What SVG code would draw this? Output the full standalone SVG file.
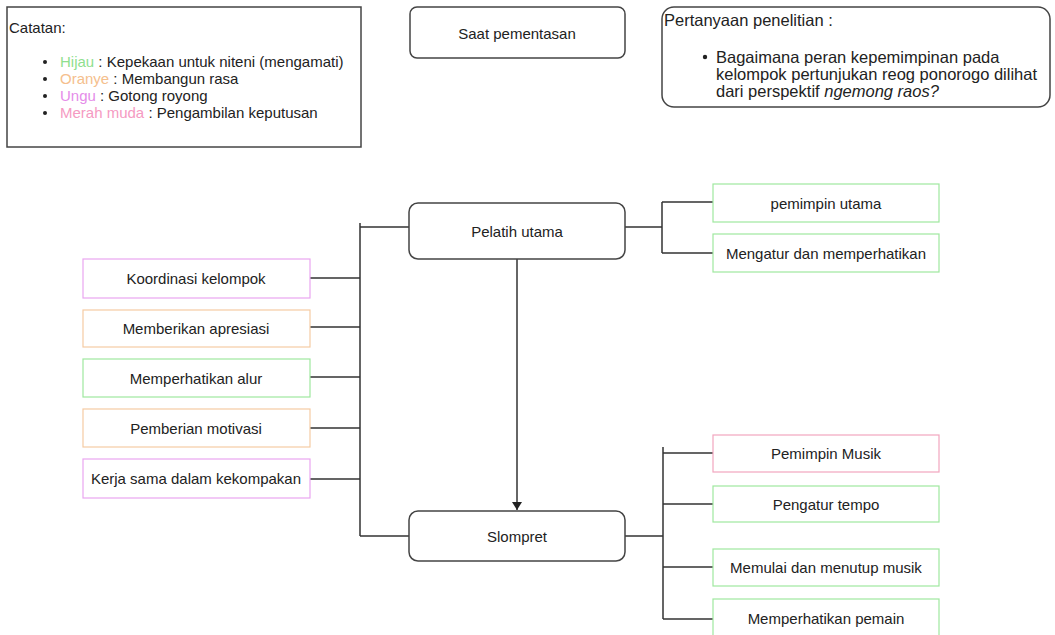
<svg xmlns="http://www.w3.org/2000/svg" width="1055" height="635" viewBox="0 0 1055 635">
<defs>
<style>
text{font-family:"Liberation Sans",Arial,sans-serif;font-size:15px;fill:#222}
.c{text-anchor:middle;dominant-baseline:central}
.q{font-size:16.5px}
.main{fill:#fff;stroke:#444;stroke-width:1.5}
.leaf{fill:#fff;stroke-width:1.2}
.g{stroke:#9fe89f}.o{stroke:#f5cba3}.u{stroke:#eaa6f0}.p{stroke:#f2a6bf}
.ln{fill:none;stroke:#333;stroke-width:1.5}
</style>
<marker id="ah" markerWidth="8" markerHeight="10" refX="8" refY="5" orient="auto" markerUnits="userSpaceOnUse">
<path d="M0,0 L8,5 L0,10 Z" fill="#222"/>
</marker>
</defs>
<rect width="1055" height="635" fill="#fff"/>

<g id="catatan">
<rect x="7" y="7" width="354" height="140" fill="#fff" stroke="#444" stroke-width="1.5"/>
<text x="9" y="33">Catatan:</text>
<circle cx="45" cy="62" r="2" fill="#222"/>
<circle cx="45" cy="79" r="2" fill="#222"/>
<circle cx="45" cy="96" r="2" fill="#222"/>
<circle cx="45" cy="113" r="2" fill="#222"/>
<text x="60" y="67"><tspan style="fill:#8fe08f">Hijau</tspan> : Kepekaan untuk niteni (mengamati)</text>
<text x="60" y="84"><tspan style="fill:#f5c08d">Oranye</tspan> : Membangun rasa</text>
<text x="60" y="101"><tspan style="fill:#e58ce9">Ungu</tspan> : Gotong royong</text>
<text x="60" y="118"><tspan style="fill:#f59ac2">Merah muda</tspan> : Pengambilan keputusan</text>
</g>

<g id="saat">
<rect x="410" y="7" width="215" height="51" rx="7" class="main"/>
<text x="517" y="33" class="c">Saat pementasan</text>
</g>

<g id="pertanyaan">
<rect x="662" y="7" width="388" height="100" rx="12" class="main"/>
<text x="664" y="26" class="q">Pertanyaan penelitian :</text>
<circle cx="705" cy="57" r="2.2" fill="#222"/>
<text x="716" y="63" class="q">Bagaimana peran kepemimpinan pada</text>
<text x="716" y="80" class="q">kelompok pertunjukan reog ponorogo dilihat</text>
<text x="716" y="97" class="q">dari perspektif <tspan font-style="italic">ngemong raos?</tspan></text>
</g>

<g id="connectors">
<path class="ln" d="M360,223 V536 M360,227 H409 M360,536 H409"/>
<path class="ln" d="M310,278 H360 M310,327 H360 M310,377 H360 M310,428 H360 M310,479 H360"/>
<path class="ln" d="M625,227 H662 M662,202 V253 M662,202 H713 M662,253 H713"/>
<path class="ln" d="M625,536 H663 M663,447 V619 M663,453 H713 M663,504 H713 M663,567 H713 M663,619 H713"/>
<path class="ln" d="M517,259 V510" marker-end="url(#ah)"/>
</g>

<g id="pelatih">
<rect x="409" y="203" width="216" height="56" rx="9" class="main"/>
<text x="517" y="231" class="c">Pelatih utama</text>
</g>
<g id="slompret">
<rect x="409" y="511" width="216" height="50" rx="9" class="main"/>
<text x="517" y="536" class="c">Slompret</text>
</g>

<g id="pemimpin-utama"><rect x="713" y="184" width="226" height="38" class="leaf g"/><text x="826" y="203" class="c">pemimpin utama</text></g>
<g id="mengatur"><rect x="713" y="234" width="226" height="38" class="leaf g"/><text x="826" y="253" class="c">Mengatur dan memperhatikan</text></g>

<g id="koordinasi"><rect x="83" y="259" width="227" height="39" class="leaf u"/><text x="196" y="278" class="c">Koordinasi kelompok</text></g>
<g id="apresiasi"><rect x="83" y="310" width="227" height="37" class="leaf o"/><text x="196" y="328" class="c">Memberikan apresiasi</text></g>
<g id="alur"><rect x="83" y="359" width="227" height="38" class="leaf g"/><text x="196" y="378" class="c">Memperhatikan alur</text></g>
<g id="motivasi"><rect x="83" y="409" width="227" height="38" class="leaf o"/><text x="196" y="428" class="c">Pemberian motivasi</text></g>
<g id="kerjasama"><rect x="83" y="459" width="227" height="39" class="leaf u"/><text x="196" y="478" class="c">Kerja sama dalam kekompakan</text></g>

<g id="pemimpin-musik"><rect x="713" y="435" width="226" height="37" class="leaf p"/><text x="826" y="453" class="c">Pemimpin Musik</text></g>
<g id="tempo"><rect x="713" y="486" width="226" height="36" class="leaf g"/><text x="826" y="504" class="c">Pengatur tempo</text></g>
<g id="memulai"><rect x="713" y="549" width="226" height="37" class="leaf g"/><text x="826" y="567" class="c">Memulai dan menutup musik</text></g>
<g id="pemain"><rect x="713" y="599" width="226" height="38" class="leaf g"/><text x="826" y="618" class="c">Memperhatikan pemain</text></g>
</svg>
